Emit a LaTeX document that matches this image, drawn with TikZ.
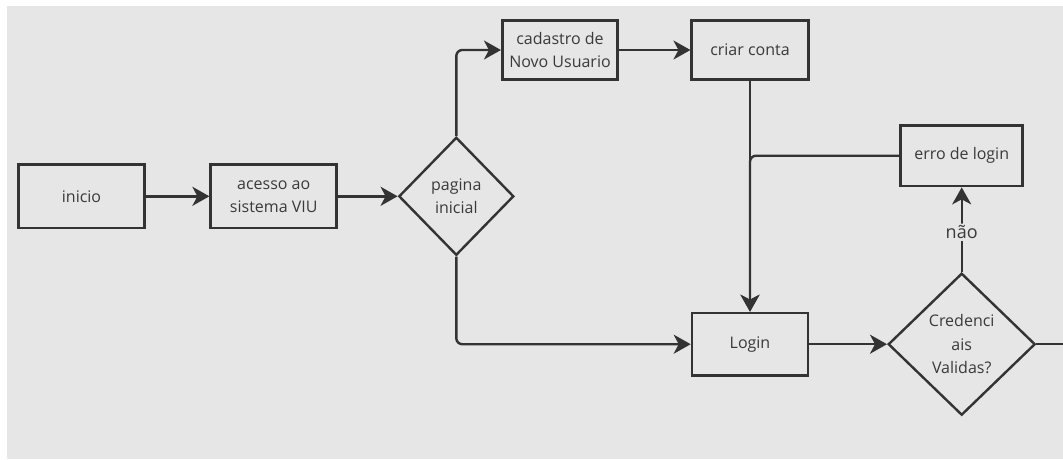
\documentclass[tikz,border=0pt]{standalone}
\usepackage{fontspec}
\setmainfont{Open Sans}
\usetikzlibrary{shapes.geometric,arrows.meta}
\definecolor{bg}{HTML}{E6E6E6}
\definecolor{ink}{HTML}{333333}
\definecolor{txt}{HTML}{3A3A3A}
\begin{document}
\begin{tikzpicture}[x=1pt,y=-1pt,
  box/.style={draw=ink, line width=2.6pt, fill=bg, text=txt, align=center, inner sep=0pt,
    font=\fontsize{16}{23}\selectfont},
  dec/.style={diamond, aspect=1, draw=ink, line width=2.4pt, fill=bg, text=txt, align=center,
    inner sep=0pt, font=\fontsize{16}{23.5}\selectfont},
  conn/.style={draw=ink, line width=2.4pt, rounded corners=6pt,
    -{Stealth[length=17pt,width=19pt,inset=5pt]}},
  plain/.style={draw=ink, line width=2.4pt, rounded corners=6pt},
  lbl/.style={fill=bg, text=txt, inner sep=2pt, font=\fontsize{18}{22}\selectfont}]
\useasboundingbox (0,0) rectangle (1063,459);
\fill[white] (0,0) rectangle (1063,459);
\fill[bg] (7,6) rectangle (1063,459);

\node[box, minimum width=126pt, minimum height=63.5pt] (inicio) at (81.5,196.3) {inicio};
\node[box, minimum width=126pt, minimum height=63.5pt] (acesso) at (273.7,196.3) {acesso ao\\sistema VIU};
\node[dec, minimum width=115pt, minimum height=118pt] (pagina) at (456.3,196.3) {pagina\\inicial};
\node[box, minimum width=115.5pt, minimum height=59pt] (cadastro) at (560,50) {cadastro de\\Novo Usuario};
\node[box, minimum width=116.5pt, minimum height=59pt] (criar) at (750,50) {criar conta};
\node[box, minimum width=122pt, minimum height=60.7pt] (erro) at (961.7,155.7) {erro de login};
\node[box, minimum width=116pt, minimum height=62.4pt] (login) at (750,344.2) {Login};
\node[dec, minimum width=147pt, minimum height=142pt] (cred) at (961.7,344.2) {Credenci\\ais\\Validas?};
\coordinate (exit) at (1063,344.2);

\draw[conn] (inicio) -- (acesso);
\draw[conn] (acesso) -- (pagina);
\draw[conn] (pagina.north) |- (cadastro.west);
\draw[conn] (pagina.south) |- (login.west);
\draw[conn] (cadastro) -- (criar);
\draw[conn] (criar) -- (login);
\draw[conn] (erro.west) -| (login.north);
\draw[conn] (login) -- (cred);
\draw[conn] (cred.north) -- node[lbl, pos=0.47] (nao) {não} (erro.south);
\draw[plain] (cred.east) -- (exit);
\end{tikzpicture}
\end{document}
